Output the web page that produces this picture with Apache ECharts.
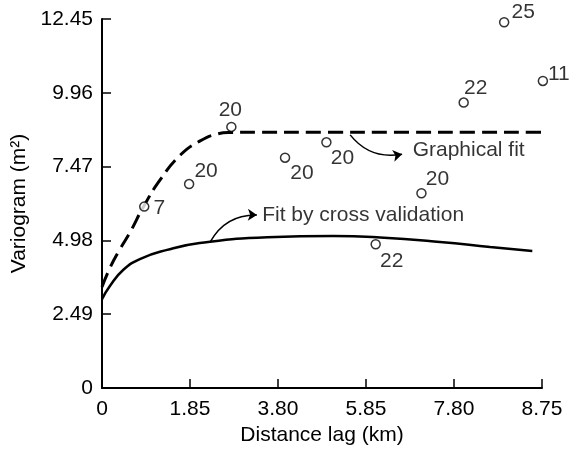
<!DOCTYPE html>
<html>
<head>
<meta charset="utf-8">
<script src="https://cdn.jsdelivr.net/npm/echarts@6/dist/echarts.min.js"></script>
<style>
html,body{margin:0;padding:0;background:#fff;}
#chart{width:572px;height:452px;}
</style>
</head>
<body>
<div id="chart"></div>
<script>
// ---- data ----
// x axis: tick labels are evenly spaced along the axis (position index 0..5)
const xTickLabels = ['0', '1.85', '3.80', '5.85', '7.80', '8.75'];
const yTickLabels = ['0', '2.49', '4.98', '7.47', '9.96', '12.45'];

// experimental variogram points (x in axis position units, y in m^2) and pair counts
const pointX = [0.48, 0.99, 1.47, 2.08, 2.55, 3.11, 3.63, 4.11, 4.57, 5.01];
const pointY = [6.12, 6.88, 8.81, 7.77, 8.29, 4.85, 6.57, 9.63, 12.34, 10.36];
const pointCounts = [7, 20, 20, 20, 20, 22, 20, 22, 25, 11];

// graphical fit (dashed)
const gfX = [0, 0.09, 0.2, 0.32, 0.47, 0.66, 0.89, 1.11, 1.31, 1.45, 1.8, 2.5, 3.4, 4.3, 4.98, 5.2, 5.34];
const gfY = [3.41, 4.05, 4.66, 5.26, 6.11, 7.02, 7.86, 8.33, 8.57, 8.62, 8.63, 8.63, 8.63, 8.63, 8.63, 8.67, 8.74];

// fit by cross validation (solid)
const cvX = [0, 0.09, 0.24, 0.43, 0.74, 1.11, 1.88, 2.63, 3.16, 3.84, 4.41, 4.89];
const cvY = [3.00, 3.44, 3.98, 4.35, 4.66, 4.89, 5.09, 5.13, 5.08, 4.93, 4.76, 4.62];

// annotations
const annotationTexts = ['Graphical fit', 'Fit by cross validation'];
const annotationAnchors = [[3.53, 8.03], [1.82, 5.84]];
const arrowStarts = [[2.82, 8.54], [1.23, 4.93]];
const arrowEnds = [[3.41, 7.89], [1.76, 5.84]];

// ---- styles ----
const FONT = "'Liberation Sans', Arial, Helvetica, sans-serif";
const INK = '#000';
const FS = 21;
const labelOffsets = [[15, 2], [17, -13], [-1, -17], [17, 15], [16, 16], [16, 17], [16, -14], [12, -14], [19, -10], [16, -7]];
const arrowCurveness = [-0.3, 0.3];

const chart = echarts.init(document.getElementById('chart'), null, {renderer: 'canvas'});

const points = pointX.map((x, i) => ({
  value: [x, pointY[i]],
  label: {offset: labelOffsets[i]}
}));

const option = {
  animation: false,
  backgroundColor: '#fff',
  grid: {left: 102, right: 30, top: 19, bottom: 64},
  xAxis: {
    type: 'value', min: 0, max: 5, interval: 1,
    name: 'Distance lag (km)', nameLocation: 'middle', nameGap: 37,
    nameTextStyle: {fontFamily: FONT, fontSize: FS, color: INK},
    axisLine: {lineStyle: {color: INK, width: 2}},
    axisTick: {inside: true, length: 9, lineStyle: {color: INK, width: 1.5}},
    axisLabel: {fontFamily: FONT, fontSize: FS, color: INK, margin: 11,
      formatter: v => xTickLabels[Math.round(v)] ?? ''},
    splitLine: {show: false}
  },
  yAxis: {
    type: 'value', min: 0, max: 12.45, interval: 2.49,
    name: 'Variogram (m²)', nameLocation: 'middle', nameGap: 70,
    nameTextStyle: {fontFamily: FONT, fontSize: FS, color: INK},
    axisLine: {show: true, lineStyle: {color: INK, width: 2}},
    axisTick: {show: true, inside: true, length: 9, lineStyle: {color: INK, width: 1.5}},
    axisLabel: {fontFamily: FONT, fontSize: FS, color: INK, margin: 9,
      formatter: v => yTickLabels[Math.round(v / 2.49)] ?? ''},
    splitLine: {show: false}
  },
  series: [
    {
      type: 'line', name: 'Graphical fit',
      data: gfX.map((x, i) => [x, gfY[i]]),
      smooth: true, symbol: 'none', clip: false,
      lineStyle: {color: INK, width: 3, type: [15, 7]}, z: 3
    },
    {
      type: 'line', name: 'Fit by cross validation',
      data: cvX.map((x, i) => [x, cvY[i]]),
      smooth: true, symbol: 'none', clip: false,
      lineStyle: {color: INK, width: 2.5}, z: 3
    },
    {
      type: 'scatter', name: 'Experimental',
      data: points, clip: false,
      symbol: 'circle', symbolSize: 9,
      itemStyle: {color: '#fff', borderColor: INK, borderWidth: 1.5},
      label: {show: true, position: 'inside', align: 'center', verticalAlign: 'middle',
        fontFamily: FONT, fontSize: FS, color: INK,
        formatter: p => String(pointCounts[p.dataIndex])},
      z: 4
    },
    {
      type: 'lines', coordinateSystem: 'cartesian2d',
      data: arrowStarts.map((s, i) => ({coords: [s, arrowEnds[i]], lineStyle: {curveness: arrowCurveness[i]}})),
      symbol: ['none', 'arrow'], symbolSize: 9,
      lineStyle: {color: INK, width: 1.5, opacity: 1},
      z: 5
    },
    {
      type: 'scatter', name: 'Annotations',
      data: annotationAnchors.map(a => a.slice()), clip: false,
      symbol: 'circle', symbolSize: 1,
      itemStyle: {color: 'rgba(0,0,0,0)'},
      label: {show: true, position: 'inside', align: 'left', verticalAlign: 'middle',
        fontFamily: FONT, fontSize: FS, color: INK,
        formatter: p => annotationTexts[p.dataIndex]},
      z: 5
    }
  ]
};
chart.setOption(option);
</script>
</body>
</html>
